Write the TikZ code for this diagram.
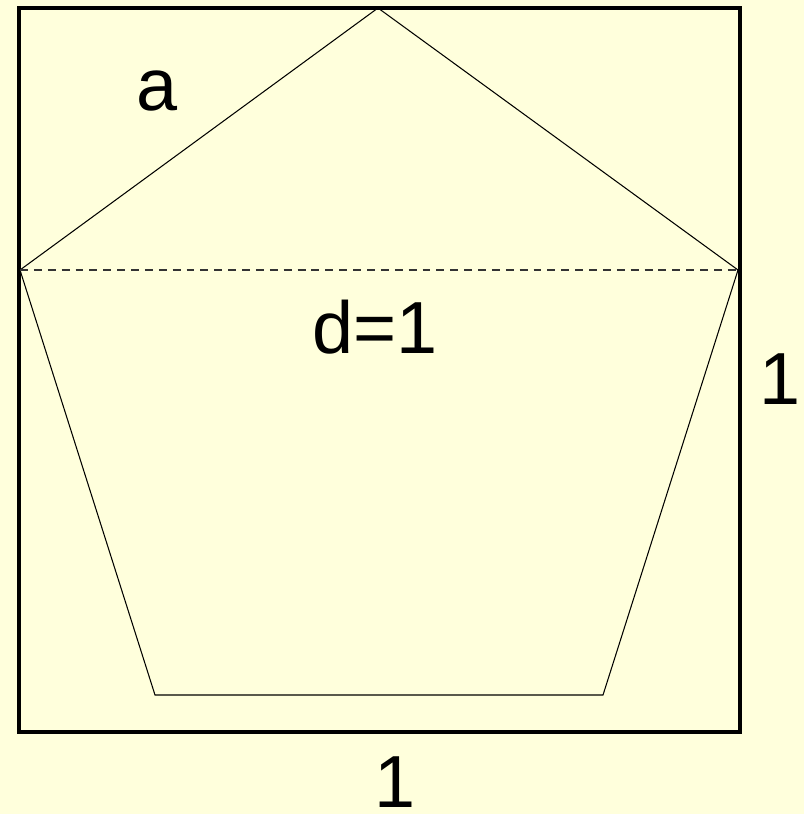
\documentclass[tikz,border=0pt]{standalone}
\usepackage{fontspec}
\setmainfont{Liberation Sans}
\usetikzlibrary{positioning}
\definecolor{PaperCream}{HTML}{FFFFDC}
\tikzset{
    % Outer unit square
    squareline/.style={
        draw=black,
        line width=2.6pt
    },
    % Pentagon sides
    sideline/.style={
        draw=black,
        line width=0.6pt
    },
    % Diagonal
    diagline/.style={
        draw=black!80,
        line width=0.6pt,
        dash pattern=on 4.5pt off 3.4pt
    },
    % Labels
    labelnode/.style={
        inner sep=0pt,
        font=\fontsize{42}{50}\selectfont
    }
}
\begin{document}
\begin{tikzpicture}[x=0.02cm,y=-0.02cm]
    % Background and bounds
    \fill[PaperCream] (0,0) rectangle (804,814);
    \useasboundingbox (0,0) rectangle (804,814);

    % Square corners
    \coordinate (sqa) at (19,8);
    \coordinate (sqb) at (740,8);
    \coordinate (sqc) at (740,732);
    \coordinate (sqd) at (19,732);

    % Pentagon vertices
    \coordinate (top) at (378,8);
    \coordinate (left) at (20,270);
    \coordinate (right) at (738,270);
    \coordinate (botl) at (155,695);
    \coordinate (botr) at (603,695);

    % Square
    \draw[squareline] (sqa) -- (sqb) -- (sqc) -- (sqd) -- cycle;

    % Pentagon
    \draw[sideline] (top) -- (right) -- (botr) -- (botl) -- (left) -- cycle;
    \draw[diagline] (left) -- (right);

    % Labels
    \node[labelnode] (side) at (157,91) {a};
    \node[labelnode] (diag) at (375,327) {d=1};
    \node[labelnode] (height) at (780,379) {1};
    \node[labelnode] (width) at (395,782) {1};
\end{tikzpicture}
\end{document}
